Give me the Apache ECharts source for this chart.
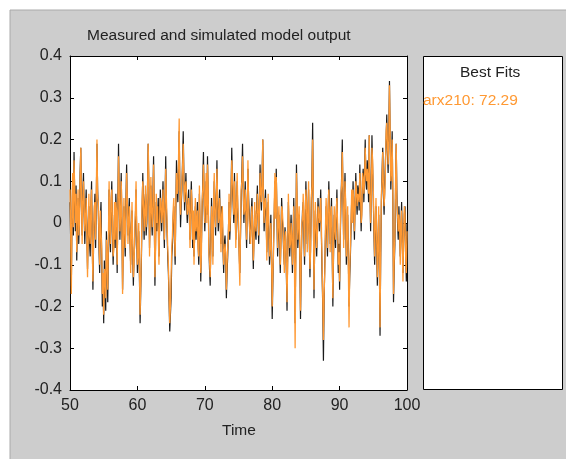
<!DOCTYPE html>
<html>
<head>
<meta charset="utf-8">
<script src="https://cdn.jsdelivr.net/npm/echarts@6/dist/echarts.min.js"></script>
<style>
  html, body { margin: 0; padding: 0; background: #ffffff; }
  #chart { width: 566px; height: 459px; }
</style>
</head>
<body>
<div id="chart"></div>
<script>
// Sample grid of the output signal
const tStart = 50;
const tStep = 0.1;

// Measured output (10 samples per time unit, 50.0 .. 100.0)
const measured = [
  0.05, -0.04, -0.15, 0.02, 0.10, -0.03, 0.17, 0.06, -0.02, 0.09,
  -0.09, 0.01, 0.06, -0.05, 0.02, 0.12, 0.18, 0.04, -0.03, 0.07,
  0.12, 0.02, -0.05, 0.03, 0.08, -0.02, -0.11, -0.01, 0.04, -0.05,
  -0.08, 0.03, 0.10, -0.04, -0.16, -0.05, 0.02, 0.07, -0.06, 0.05,
  0.19, 0.08, 0.03, -0.06, -0.12, 0.01, 0.05, -0.08, -0.20, -0.14,
  -0.24, -0.09, -0.15, -0.21, -0.02, -0.10, -0.19, -0.06, 0.08, -0.03,
  -0.07, 0.04, 0.10, -0.02, -0.10, -0.04, 0.02, -0.06, 0.07, 0.01,
  -0.12, 0.05, 0.19, 0.06, -0.04, 0.03, 0.12, 0.00, -0.16, -0.05,
  0.04, -0.03, -0.08, 0.05, 0.14, 0.04, -0.03, 0.02, 0.06, -0.04,
  -0.10, -0.01, 0.03, -0.07, -0.15, -0.08, -0.05, 0.01, 0.08, -0.03,
  -0.12, -0.06, -0.02, -0.13, -0.24, -0.16, -0.08, 0.03, 0.12, 0.02,
  -0.04, 0.05, 0.07, -0.03, 0.00, 0.09, 0.19, 0.08, -0.06, 0.03,
  0.09, 0.01, -0.03, 0.06, 0.16, 0.02, -0.15, -0.04, 0.05, -0.02,
  0.02, 0.06, -0.08, -0.01, 0.08, 0.03, -0.02, 0.04, 0.10, 0.01,
  -0.06, 0.05, 0.16, 0.04, -0.02, -0.08, -0.12, -0.19, -0.26, -0.22,
  -0.18, -0.08, -0.05, 0.01, 0.04, -0.04, -0.10, 0.03, 0.15, 0.09,
  0.05, 0.13, 0.22, 0.09, -0.01, 0.04, 0.08, 0.15, 0.22, 0.11,
  0.03, 0.07, 0.12, 0.04, 0.00, 0.05, 0.08, 0.02, -0.04, 0.03,
  0.10, 0.03, -0.06, 0.01, -0.08, -0.03, 0.04, -0.04, 0.00, 0.05,
  -0.04, -0.10, 0.07, -0.02, -0.14, -0.05, 0.03, 0.10, 0.17, 0.05,
  -0.02, 0.04, 0.10, 0.02, 0.16, 0.06, -0.05, -0.11, -0.15, -0.04,
  0.06, -0.01, -0.08, 0.02, 0.10, 0.04, -0.03, 0.06, 0.15, 0.04,
  -0.02, 0.03, 0.08, -0.01, -0.05, 0.04, 0.02, -0.06, -0.12, -0.05,
  -0.03, -0.09, -0.18, -0.12, -0.08, -0.02, 0.05, -0.04, 0.00, 0.08,
  0.18, 0.09, 0.05, 0.00, 0.12, 0.03, -0.04, 0.04, 0.10, 0.02,
  -0.02, -0.07, -0.12, -0.03, 0.06, 0.12, 0.19, 0.08, 0.00, 0.05,
  0.10, 0.01, -0.06, 0.04, 0.13, 0.06, 0.02, -0.05, -0.03, 0.03,
  0.06, -0.04, -0.11, -0.03, 0.03, -0.02, -0.04, 0.04, 0.09, 0.01,
  -0.05, 0.05, 0.14, 0.06, 0.03, 0.11, 0.20, 0.07, -0.02, 0.03,
  0.08, 0.01, -0.07, -0.01, 0.05, -0.03, -0.10, -0.04, 0.02, -0.10,
  -0.23, -0.14, -0.05, 0.02, 0.10, 0.03, 0.13, 0.02, -0.08, -0.02,
  0.02, -0.05, -0.12, -0.03, 0.06, 0.01, -0.02, -0.07, -0.10, -0.01,
  -0.04, -0.12, -0.21, -0.07, 0.05, -0.02, -0.08, -0.03, 0.02, -0.05,
  -0.12, -0.03, 0.06, -0.08, -0.24, -0.06, 0.14, 0.03, -0.06, -0.01,
  0.02, -0.10, -0.23, -0.11, -0.02, 0.03, 0.05, -0.03, -0.10, 0.01,
  0.10, 0.02, -0.05, 0.03, 0.08, -0.04, -0.13, -0.05, 0.04, 0.11,
  0.24, 0.04, -0.18, -0.06, 0.03, -0.02, -0.08, -0.01, 0.06, 0.01,
  -0.02, 0.03, 0.08, -0.03, -0.12, -0.20, -0.33, -0.19, -0.10, -0.03,
  0.04, -0.02, -0.08, 0.02, 0.10, 0.03, -0.05, 0.01, 0.06, -0.07,
  -0.20, -0.08, 0.02, -0.03, -0.06, 0.01, 0.08, -0.02, -0.12, -0.05,
  -0.16, -0.04, 0.05, 0.11, 0.20, 0.06, -0.04, 0.04, 0.12, 0.03,
  -0.10, -0.03, 0.02, -0.09, -0.20, -0.13, -0.08, -0.01, 0.06, 0.02,
  0.10, 0.03, -0.04, 0.05, 0.12, 0.06, 0.02, 0.09, 0.08, 0.03,
  0.14, 0.05, -0.02, 0.04, 0.10, 0.13, 0.05, 0.12, 0.20, 0.10,
  0.08, 0.15, 0.12, 0.05, 0.21, 0.09, -0.02, 0.08, 0.21, 0.13,
  0.06, -0.03, -0.10, -0.02, 0.04, -0.06, -0.15, -0.04, 0.02, -0.11,
  -0.27, -0.08, 0.05, 0.12, 0.18, 0.07, 0.02, 0.09, 0.15, 0.20,
  0.26, 0.17, 0.12, 0.22, 0.34, 0.20, 0.08, 0.14, 0.22, 0.05,
  -0.19, -0.11, -0.05, 0.08, 0.19, 0.07, 0.00, -0.04, 0.04, -0.02,
  -0.08, -0.02, 0.05, -0.04, -0.12, -0.05, 0.02, 0.04, -0.06, -0.14,
  0.00
];

// Simulated output of the arx210 model
const simulated = [
  0.08, -0.02, -0.17, 0.04, 0.12, -0.01, 0.15, 0.08, 0.00, 0.07,
  -0.07, 0.03, 0.08, -0.03, 0.00, 0.10, 0.18, 0.06, -0.05, 0.05,
  0.10, 0.04, -0.02, 0.01, 0.06, -0.04, -0.13, -0.03, 0.07, -0.03,
  -0.05, 0.05, 0.08, -0.06, -0.14, -0.03, 0.04, 0.05, -0.04, 0.07,
  0.20, 0.06, 0.05, -0.04, -0.10, 0.03, 0.03, -0.06, -0.17, -0.12,
  -0.22, -0.11, -0.12, -0.18, -0.04, -0.08, -0.16, -0.04, 0.10, -0.01,
  -0.05, 0.06, 0.08, 0.00, -0.08, -0.06, 0.05, -0.04, 0.05, 0.03,
  -0.10, 0.03, 0.16, 0.08, -0.02, 0.01, 0.10, 0.02, -0.17, -0.07,
  0.06, -0.01, -0.06, 0.03, 0.12, 0.06, -0.05, 0.00, 0.04, -0.02,
  -0.12, -0.03, 0.05, -0.05, -0.13, -0.10, -0.03, 0.03, 0.10, -0.01,
  -0.10, -0.08, 0.00, -0.11, -0.22, -0.14, -0.06, 0.05, 0.10, 0.04,
  -0.02, 0.03, 0.09, -0.01, 0.02, 0.07, 0.19, 0.10, -0.08, 0.01,
  0.11, 0.03, -0.01, 0.04, 0.14, 0.04, -0.13, -0.06, 0.07, 0.00,
  0.04, 0.04, -0.10, 0.01, 0.06, 0.05, 0.00, 0.02, 0.08, 0.03,
  -0.04, 0.03, 0.13, 0.06, 0.00, -0.06, -0.10, -0.17, -0.24, -0.20,
  -0.20, -0.06, -0.03, 0.03, 0.06, -0.02, -0.08, 0.05, 0.12, 0.07,
  0.08, 0.15, 0.25, 0.07, 0.02, 0.06, 0.10, 0.13, 0.19, 0.09,
  0.05, 0.09, 0.10, 0.06, 0.02, 0.03, 0.06, 0.04, -0.06, 0.01,
  0.08, 0.05, -0.04, 0.03, -0.10, -0.01, 0.06, -0.02, -0.02, 0.03,
  -0.06, -0.08, 0.09, 0.00, -0.12, -0.07, 0.05, 0.08, 0.14, 0.07,
  0.00, 0.06, 0.12, 0.00, 0.14, 0.08, -0.07, -0.09, -0.13, -0.06,
  0.04, 0.01, -0.10, 0.04, 0.12, 0.02, -0.01, 0.04, 0.13, 0.06,
  0.00, 0.01, 0.06, 0.01, -0.07, 0.02, 0.04, -0.04, -0.10, -0.07,
  -0.05, -0.07, -0.16, -0.10, -0.06, -0.04, 0.07, -0.02, 0.02, 0.06,
  0.15, 0.11, 0.07, 0.02, 0.10, 0.05, -0.06, 0.02, 0.12, 0.04,
  0.00, -0.09, -0.15, -0.01, 0.08, 0.10, 0.16, 0.10, 0.02, 0.03,
  0.08, 0.03, -0.04, 0.02, 0.15, 0.04, 0.00, -0.03, -0.05, 0.01,
  0.04, -0.02, -0.09, -0.05, 0.05, 0.00, -0.02, 0.02, 0.07, 0.03,
  -0.03, 0.03, 0.12, 0.08, 0.05, 0.09, 0.20, 0.05, 0.00, 0.05,
  0.06, 0.03, -0.09, 0.01, 0.07, -0.01, -0.08, -0.06, 0.00, -0.08,
  -0.20, -0.12, -0.07, 0.04, 0.12, 0.01, 0.11, 0.04, -0.06, 0.00,
  0.04, -0.03, -0.10, -0.05, 0.04, 0.03, 0.00, -0.05, -0.12, -0.03,
  -0.02, -0.10, -0.19, -0.09, 0.07, 0.00, -0.06, -0.05, 0.00, -0.03,
  -0.10, -0.05, 0.04, -0.10, -0.30, -0.08, 0.12, 0.05, -0.04, 0.01,
  0.04, -0.08, -0.21, -0.09, 0.00, 0.01, 0.07, -0.01, -0.08, 0.03,
  0.08, 0.04, -0.07, 0.01, 0.10, -0.02, -0.11, -0.07, 0.06, 0.09,
  0.20, 0.06, -0.16, -0.04, 0.05, 0.00, -0.06, -0.03, 0.04, 0.03,
  0.00, 0.01, 0.06, -0.01, -0.10, -0.18, -0.28, -0.17, -0.12, -0.01,
  0.06, 0.00, -0.06, 0.04, 0.08, 0.01, -0.07, 0.03, 0.04, -0.05,
  -0.18, -0.06, 0.04, -0.01, -0.04, 0.03, 0.06, 0.00, -0.10, -0.07,
  -0.14, -0.02, 0.07, 0.09, 0.17, 0.08, -0.06, 0.02, 0.10, 0.05,
  -0.08, -0.01, 0.04, -0.11, -0.25, -0.11, -0.06, 0.01, 0.08, 0.00,
  0.08, 0.05, -0.02, 0.03, 0.10, 0.08, 0.04, 0.07, 0.06, 0.05,
  0.12, 0.07, 0.00, 0.02, 0.12, 0.11, 0.07, 0.10, 0.18, 0.12,
  0.10, 0.13, 0.10, 0.07, 0.21, 0.07, 0.00, 0.06, 0.18, 0.15,
  0.08, -0.01, -0.08, 0.00, 0.06, -0.04, -0.13, -0.06, 0.04, -0.09,
  -0.25, -0.06, 0.07, 0.10, 0.17, 0.09, 0.04, 0.07, 0.13, 0.22,
  0.24, 0.19, 0.14, 0.20, 0.33, 0.22, 0.10, 0.12, 0.20, 0.07,
  -0.17, -0.09, -0.03, 0.10, 0.19, 0.05, 0.02, -0.02, 0.02, 0.00,
  -0.10, 0.00, 0.03, -0.06, -0.14, -0.03, 0.04, 0.02, -0.08, -0.12,
  -0.02
];

// Axis settings and text
const xTicks = [50, 60, 70, 80, 90, 100];
const yTicks = [-0.4, -0.3, -0.2, -0.1, 0, 0.1, 0.2, 0.3, 0.4];
const titleText = 'Measured and simulated model output';
const xName = 'Time';
const legendTitle = 'Best Fits';
const fitName = 'arx210';
const fitValue = 72.29;

const FONT = '"Liberation Sans", Arial, Helvetica, sans-serif';
const ORANGE = '#ff9933';

function pairs(values) {
  return values.map((v, i) => [+(tStart + i * tStep).toFixed(1), v]);
}

const tickFmt = v => (Math.abs(v) < 1e-9 ? '0' : (+v).toFixed(1));

const chart = echarts.init(document.getElementById('chart'), null, { renderer: 'canvas' });

const baseX = {
  type: 'value', min: xTicks[0], max: xTicks[xTicks.length - 1], interval: 10,
  axisLine: { onZero: false, lineStyle: { color: '#000', width: 1 } },
  axisTick: { inside: true, length: 4, lineStyle: { color: '#000' } },
  splitLine: { show: false }
};
const baseY = {
  type: 'value', min: yTicks[0], max: yTicks[yTicks.length - 1], interval: 0.1,
  axisLine: { onZero: false, lineStyle: { color: '#000', width: 1 } },
  axisTick: { inside: true, length: 4, lineStyle: { color: '#000' } },
  splitLine: { show: false }
};

chart.setOption({
  animation: false,
  backgroundColor: '#ffffff',
  grid: { left: 70, top: 56, width: 337, height: 334, show: true, backgroundColor: '#ffffff', borderWidth: 0 },
  xAxis: [
    Object.assign({}, baseX, {
      position: 'bottom',
      axisLabel: { color: '#222', fontFamily: FONT, fontSize: 16, margin: 8, formatter: v => String(v) }
    }),
    Object.assign({}, baseX, { position: 'top', axisLabel: { show: false } })
  ],
  yAxis: [
    Object.assign({}, baseY, {
      position: 'left',
      axisLabel: { color: '#222', fontFamily: FONT, fontSize: 16, margin: 8, formatter: tickFmt }
    }),
    Object.assign({}, baseY, { position: 'right', axisLabel: { show: false } })
  ],
  graphic: [
    { type: 'rect', z: -10, silent: true, shape: { x: 10, y: 10, width: 566, height: 459 },
      style: { fill: '#cdcdcd', stroke: '#aaaaaa', lineWidth: 1 } },
    { type: 'text', z: 10, left: 87, top: 28,
      style: { text: titleText, fill: '#222', font: '15.5px ' + FONT } },
    { type: 'text', z: 10, left: 222, top: 423,
      style: { text: xName, fill: '#222', font: '15.5px ' + FONT } },
    { type: 'rect', z: 5, shape: { x: 423.5, y: 56.5, width: 139, height: 333 },
      style: { fill: '#ffffff', stroke: '#000', lineWidth: 1 } },
    { type: 'text', z: 10, left: 460, top: 65,
      style: { text: legendTitle, fill: '#222', font: '15.5px ' + FONT } },
    { type: 'text', z: 10, left: 423, top: 93,
      style: { text: fitName + ': ' + fitValue.toFixed(2), fill: ORANGE, font: '15.5px ' + FONT } }
  ],
  series: [
    { name: 'Measured', type: 'line', data: pairs(measured), showSymbol: false,
      lineStyle: { color: '#1a1a1a', width: 1.2 }, z: 2 },
    { name: fitName, type: 'line', data: pairs(simulated), showSymbol: false,
      lineStyle: { color: ORANGE, width: 1.3 }, z: 3 }
  ]
});
</script>
</body>
</html>
